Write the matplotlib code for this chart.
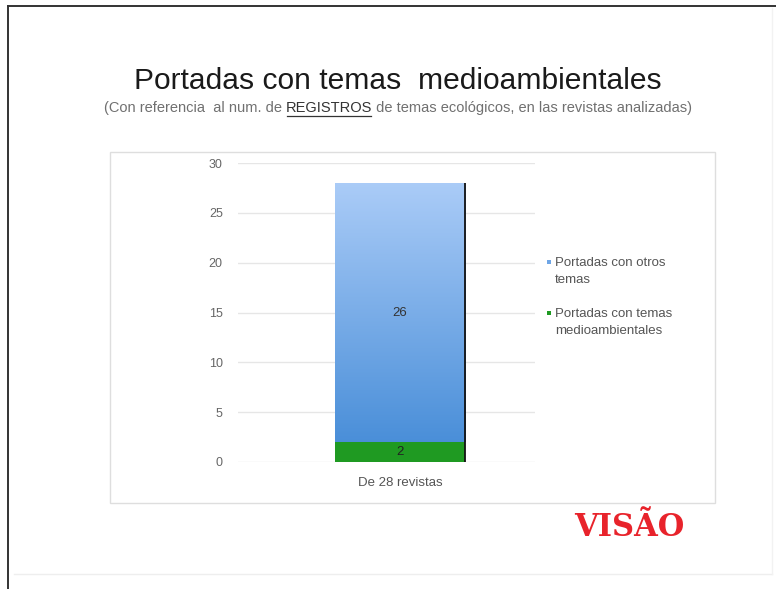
import numpy as np
import matplotlib
matplotlib.use("Agg")
import matplotlib.pyplot as plt
from matplotlib.patches import Rectangle
from matplotlib.lines import Line2D

# data
categories = ["De 28 revistas"]
otros = [26]
medio = [2]
series_names = ["Portadas con otros\ntemas", "Portadas con temas\nmedioambientales"]
yticks = [0, 5, 10, 15, 20, 25, 30]

W, H = 776, 589
fig = plt.figure(figsize=(W / 100, H / 100), dpi=100)
fig.patch.set_facecolor("white")

def fx(px):
    return px / W

def fy(py):
    return 1 - py / H

# slide frame
fig.add_artist(Line2D([fx(8), fx(8)], [fy(6), 0], color="#333333", lw=1.4))
fig.add_artist(Line2D([fx(8), 1], [fy(6), fy(6)], color="#333333", lw=1.4))
fig.add_artist(Line2D([fx(14), fx(772)], [fy(574), fy(574)], color="#eeeeee", lw=1))
fig.add_artist(Line2D([fx(772), fx(772)], [fy(574), fy(8)], color="#f2f2f2", lw=1))

# chart panel
fig.add_artist(Rectangle((fx(110), fy(503)), fx(715) - fx(110), fy(152) - fy(503),
                         transform=fig.transFigure, facecolor="white",
                         edgecolor="#dedede", lw=1, zorder=-1))

# title
fig.text(fx(398), fy(81), "Portadas con temas  medioambientales", ha="center", va="center",
         fontsize=21.6, family="Liberation Sans", color="#1a1a1a")

# subtitle with underlined word
parts = ["(Con referencia  al num. de ", "REGISTROS",
         " de temas ecológicos, en las revistas analizadas)"]
colors = ["#707070", "#333333", "#707070"]
fig.canvas.draw()
r = fig.canvas.get_renderer()
texts = []
widths = []
for p, c in zip(parts, colors):
    t = fig.text(0, fy(108), p, ha="left", va="center", fontsize=10.5,
                 family="Liberation Sans", color=c)
    bb = t.get_window_extent(renderer=r)
    texts.append(t)
    widths.append(bb.width)
total = sum(widths)
x0 = 398 - total / 2
for t, w in zip(texts, widths):
    t.set_x(fx(x0))
    x0 += w
ux0 = fx(398 - total / 2 + widths[0] + 1)
ux1 = ux0 + fx(widths[1] - 2)
fig.add_artist(Line2D([ux0, ux1], [fy(115.5), fy(115.5)], color="#333333", lw=0.9))

# axes
ax = fig.add_axes([fx(238), fy(462), fx(535) - fx(238), fy(163) - fy(462)], zorder=2)
ax.set_facecolor("none")
x = np.arange(len(categories))
bw = 0.44
b1 = ax.bar(x, medio, width=bw, color="#1f9a22", zorder=3)
b2 = ax.bar(x, otros, bottom=medio, width=bw, color="#6fa6e6", zorder=3)
ax.set_xlim(-0.545, 0.455)
ax.set_ylim(0, 30)

# gradient fill for the blue bar
for p in b2.patches:
    xb, yb = p.get_x(), p.get_y()
    grad = np.linspace(0, 1, 256).reshape(-1, 1)
    top = np.array([0.67, 0.80, 0.97])
    bot = np.array([0.29, 0.56, 0.85])
    img = bot + (top - bot) * grad[..., None]
    im = ax.imshow(img, extent=[xb, xb + p.get_width(), yb, yb + p.get_height()],
                   origin="lower", aspect="auto", zorder=4)
    im.set_clip_path(p)
    ax.vlines(xb + p.get_width(), 0, yb + p.get_height(), color="#111111", lw=1.3, zorder=5)

for i in range(len(categories)):
    ax.text(x[i], otros[i] / 2 + medio[i], str(otros[i]), ha="center", va="center",
            fontsize=9.5, color="#333333", family="Liberation Sans", zorder=6)
    ax.text(x[i], medio[i] / 2, str(medio[i]), ha="center", va="center",
            fontsize=9.5, color="#222222", family="Liberation Sans", zorder=6)

ax.set_yticks(yticks)
ax.set_yticklabels([str(v) for v in yticks], fontsize=9, color="#666666",
                   family="Liberation Sans")
ax.set_xticks(x)
ax.set_xticklabels(categories, fontsize=9.5, color="#555555", family="Liberation Sans")
ax.tick_params(axis="y", length=0, pad=11)
ax.tick_params(axis="x", length=0, pad=11)
ax.yaxis.grid(True, color="#e6e6e6", lw=1, zorder=0)
ax.set_axisbelow(True)
for s in ax.spines.values():
    s.set_visible(False)

# legend
leg_y = [262, 313]
leg_c = ["#6fa6e6", "#1f9a22"]
for name, yy, c in zip(series_names, leg_y, leg_c):
    fig.add_artist(Rectangle((fx(547), fy(yy) - 2 / H), 4 / W, 4 / H,
                             transform=fig.transFigure, facecolor=c, edgecolor="none"))
    fig.text(fx(555), fy(yy - 5), name, ha="left", va="top", fontsize=9.5,
             family="Liberation Sans", color="#555555", linespacing=1.55)

# logo
fig.text(fx(629), fy(527), "VISÃO", ha="center", va="center", fontsize=22,
         family="DejaVu Serif", weight="bold", color="#e8232b")

fig.savefig("out.png", dpi=100, facecolor="white")
